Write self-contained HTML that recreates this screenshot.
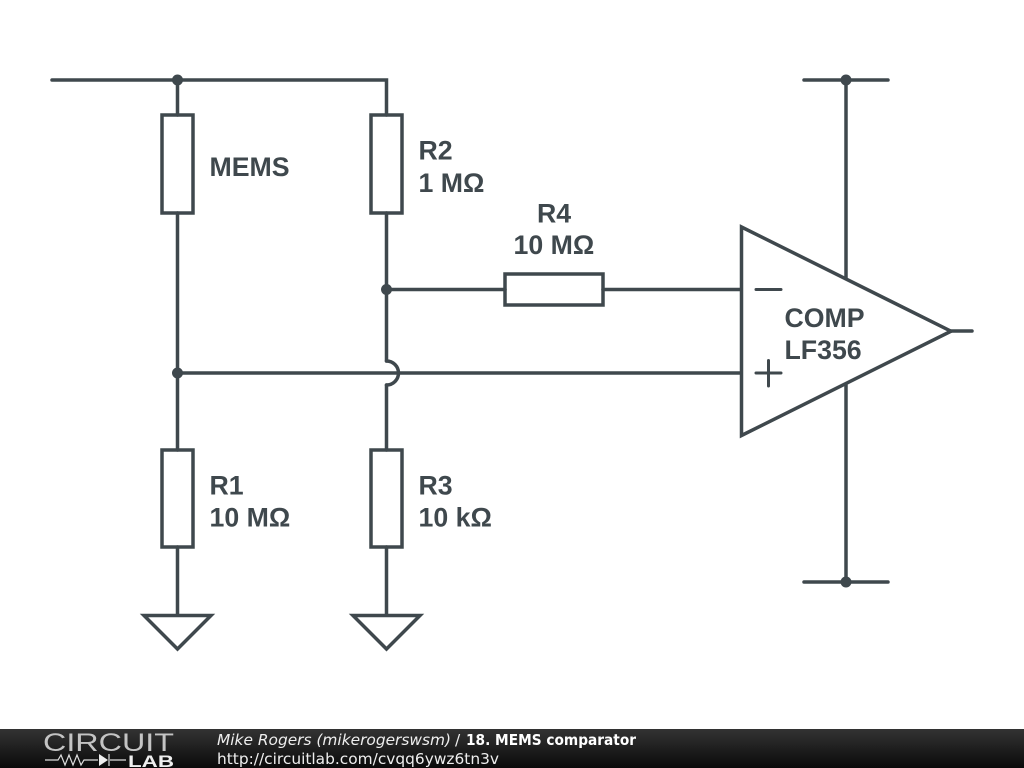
<!DOCTYPE html>
<html><head><meta charset="utf-8"><style>
html,body{margin:0;padding:0;background:#fff;width:1024px;height:768px;overflow:hidden}
svg{display:block}
</style></head><body>
<svg width="1024" height="768" viewBox="0 0 1024 768" xmlns="http://www.w3.org/2000/svg">
<defs><linearGradient id="g" x1="0" y1="0" x2="0" y2="1"><stop offset="0" stop-color="#333"/><stop offset="1" stop-color="#0a0a0a"/></linearGradient></defs>
<rect width="1024" height="768" fill="#fff"/>
<g fill="none" stroke="#3f484d" stroke-width="3.5" stroke-linecap="round" stroke-linejoin="miter">
<path d="M52 80H386.500V115"/>
<path d="M177.500 80V115M177.500 213V450M177.500 547V615"/>
<path d="M386.500 213V361M386.500 385V450M386.500 547V615"/>
<path d="M386.500 361A12 12 0 0 1 386.500 385"/>
<path d="M386.500 289.500H505M603 289.500H741"/>
<path d="M177.500 373H741"/>
<rect x="162" y="115" width="31" height="98"/>
<rect x="371" y="115" width="31" height="98"/>
<rect x="162" y="450" width="31" height="97"/>
<rect x="371" y="450" width="31" height="97"/>
<rect x="505" y="274" width="98" height="31"/>
<path d="M144 615.500H211L177.500 649Z"/>
<path d="M353 615.500H420L386.500 649Z"/>
<path d="M741.500 227V435.500L951 331.200Z"/>
<path d="M951 331H972"/>
<path d="M846 80V278M846 385V582"/>
<path d="M804 80H888M804 582H888"/>
<path d="M756 289.500H781M756 373H781M768.500 360.500V386" stroke-width="3"/>
</g>
<g fill="#3f484d">
<circle cx="177.500" cy="80" r="5.500"/>
<circle cx="846" cy="80" r="5.500"/>
<circle cx="846" cy="582" r="5.500"/>
<circle cx="386.500" cy="289.500" r="5.500"/>
<circle cx="177.500" cy="373" r="5.500"/>
</g>
<g font-family="'Liberation Sans',sans-serif" font-weight="700" font-size="26.700" fill="#3f484d">
<text x="209.500" y="176">MEMS</text>
<text x="418.500" y="159.500">R2</text>
<text x="418.500" y="192">1 MΩ</text>
<text x="537" y="222.500">R4</text>
<text x="513.500" y="254">10 MΩ</text>
<text x="209.500" y="494.500">R1</text>
<text x="209.500" y="526.500">10 MΩ</text>
<text x="418.500" y="494.500">R3</text>
<text x="418.500" y="526.500">10 kΩ</text>
<text x="784.500" y="327">COMP</text>
<text x="784.500" y="359">LF356</text>
</g>
<rect y="729" width="1024" height="39" fill="url(#g)"/>
<g font-family="'DejaVu Sans',sans-serif" font-size="15.400" fill="#fff">
<text x="217" y="745" font-style="italic" fill="#eee">Mike Rogers (mikerogerswsm)</text>
<text x="455" y="745" fill="#eee">/</text>
<text x="466" y="745" font-weight="700" textLength="170" lengthAdjust="spacingAndGlyphs">18. MEMS comparator</text>
<text x="217" y="764" fill="#eee">http://circuitlab.com/cvqq6ywz6tn3v</text>
</g>
<text x="43" y="751" font-family="'Liberation Sans',sans-serif" font-size="25" fill="#c4c4c4" textLength="131" lengthAdjust="spacingAndGlyphs" style="font-weight:400">CIRCUIT</text>
<text x="128" y="767" font-family="'Liberation Sans',sans-serif" font-size="17" font-weight="700" fill="#eee" textLength="46" lengthAdjust="spacingAndGlyphs">LAB</text>
<g fill="none" stroke="#ddd" stroke-width="1.200">
<path d="M45 760H58L61 755L65 765L69 755L73 765L77 755L81 765L84 760H98M110 760H126"/>
<path d="M109 754V766"/>
</g>
<path d="M99 754L108 760L99 766Z" fill="#eee"/>
</svg>
</body></html>
